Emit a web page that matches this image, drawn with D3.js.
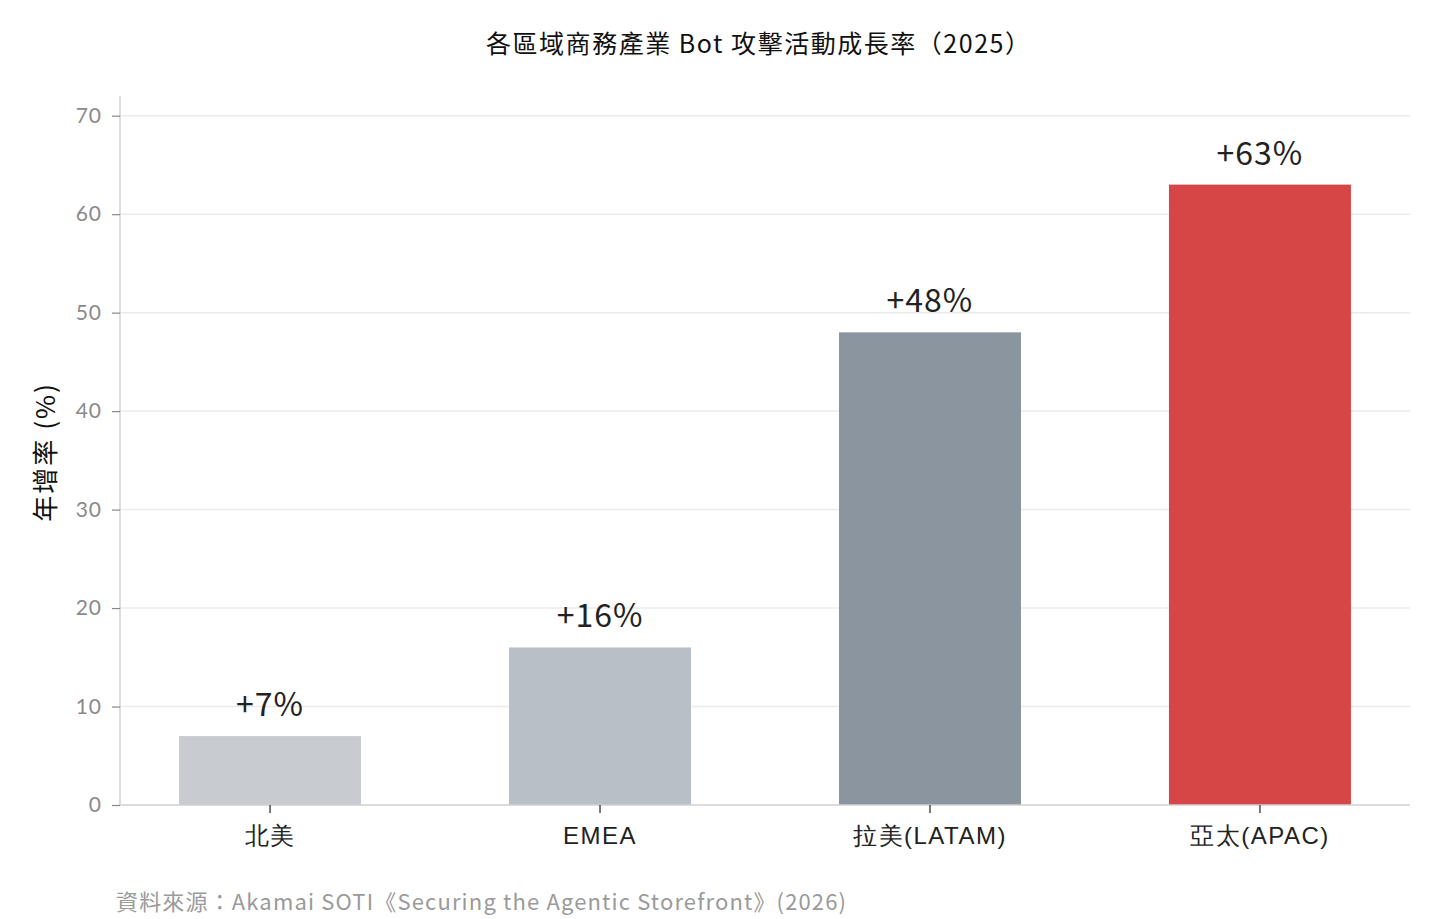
<!DOCTYPE html>
<html><head><meta charset="utf-8">
<script src="https://cdn.jsdelivr.net/npm/d3@7"></script>
<style>
html,body{margin:0;padding:0;background:#fff;}
svg{display:block;font-family:"Noto Sans CJK TC","Lato",sans-serif;}
</style></head>
<body>
<svg id="chart" width="1440" height="919"></svg>
<script>
const categories = ["北美", "EMEA", "拉美(LATAM)", "亞太(APAC)"];
const growth = [7, 16, 48, 63];
const valueLabels = ["+7%", "+16%", "+48%", "+63%"];
const barColors = ["#c8cbcf", "#b9bfc6", "#8b95a0", "#d64646"];
const yTicks = [0, 10, 20, 30, 40, 50, 60, 70];
const title = "各區域商務產業 Bot 攻擊活動成長率（2025）";
const yLabel = "年增率 (%)";
const source = "資料來源：Akamai SOTI《Securing the Agentic Storefront》(2026)";

const svg = d3.select("#chart");
const m = {left:120, right:1410, top:96, bottom:805};

const x = d3.scaleBand().domain(categories).range([m.left, m.right])
  .paddingInner(0.4485).paddingOuter(0.179);
const y = d3.scaleLinear().domain([0, 72]).range([m.bottom, m.top]);

// grid
svg.append("g").selectAll("line").data(yTicks.filter(d=>d>0)).join("line")
  .attr("x1", m.left).attr("x2", m.right)
  .attr("y1", d=>y(d)).attr("y2", d=>y(d))
  .attr("stroke", "#ebebeb").attr("stroke-width", 1.5);

// bars
svg.append("g").selectAll("rect").data(growth).join("rect")
  .attr("x", (d,i)=>x(categories[i]))
  .attr("width", x.bandwidth())
  .attr("y", d=>y(d))
  .attr("height", d=>y(0)-y(d))
  .attr("fill", (d,i)=>barColors[i]);

// value labels
svg.append("g").selectAll("text").data(growth).join("text")
  .attr("x", (d,i)=>x(categories[i]) + x.bandwidth()/2)
  .attr("y", d=>y(d) - 20)
  .attr("text-anchor", "middle")
  .attr("font-size", 32)
  .attr("letter-spacing", 1)
  .attr("fill", "#222")
  .text((d,i)=>valueLabels[i]);

// y axis
const yAxis = d3.axisLeft(y).tickValues(yTicks).tickSize(8).tickPadding(10);
const gy = svg.append("g").attr("transform", `translate(${m.left},0)`).call(yAxis);
gy.select(".domain").attr("stroke", "#d0d0d0").attr("stroke-width", 1.5).attr("d", `M0,${m.top}V${m.bottom}`);
gy.selectAll(".tick line").attr("stroke", "#888").attr("stroke-width", 1.2);
gy.selectAll(".tick text").attr("fill", "#8a8a8a").attr("font-size", 21)
  .attr("letter-spacing", 1)
  .attr("font-family", "Lato, sans-serif");

// x axis
const xAxis = d3.axisBottom(x).tickSize(8).tickPadding(14);
const gx = svg.append("g").attr("transform", `translate(0,${m.bottom})`).call(xAxis);
gx.select(".domain").attr("stroke", "#d0d0d0").attr("stroke-width", 1.5).attr("d", `M${m.left},0H${m.right}`);
gx.selectAll(".tick line").attr("stroke", "#222").attr("stroke-width", 1.2);
gx.selectAll(".tick text").attr("fill", "#222").attr("font-size", 24).attr("letter-spacing", 1.5);

// title
svg.append("text").attr("x", 758).attr("y", 53).attr("text-anchor", "middle")
  .attr("font-size", 25).attr("fill", "#111")
  .attr("textLength", 544).attr("lengthAdjust", "spacing").text(title);

// y label
svg.append("text").attr("transform", "translate(55,452) rotate(-90)")
  .attr("text-anchor", "middle").attr("font-size", 26).attr("fill", "#111")
  .attr("letter-spacing", 2).text(yLabel);

// source
svg.append("text").attr("x", 116).attr("y", 910)
  .attr("font-size", 22).attr("fill", "#9a9a9a")
  .attr("textLength", 730).attr("lengthAdjust", "spacing").text(source);
</script>
</body></html>
